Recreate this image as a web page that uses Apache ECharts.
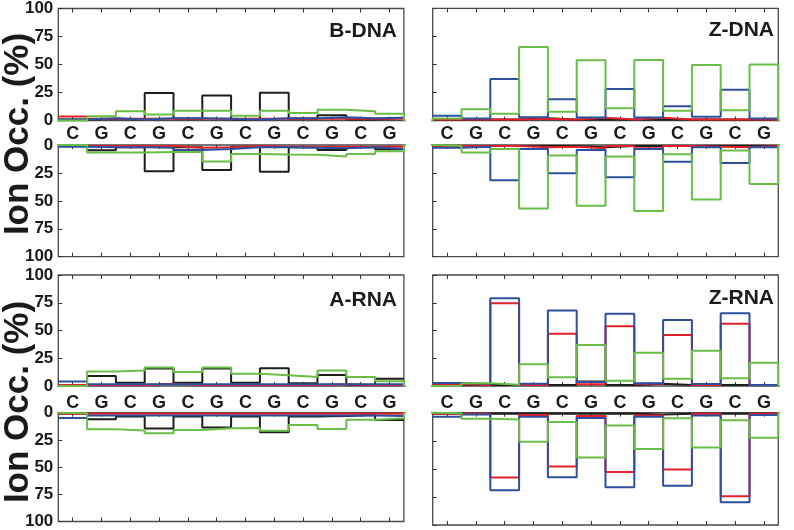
<!DOCTYPE html>
<html><head><meta charset="utf-8">
<script src="https://cdn.jsdelivr.net/npm/echarts@6/dist/echarts.min.js"></script>
<style>html,body{margin:0;padding:0;background:#fff}#c{width:794px;height:530px}</style>
</head><body><div id="c"></div>
<script>
// ---------- data ----------
const bases = ['C','G','C','G','C','G','C','G','C','G','C','G'];
const panelNames = ['B-DNA','Z-DNA','A-RNA','Z-RNA'];
const yAxisTitle = 'Ion Occ. (%)';

// B-DNA
const bdnaUpBlack = [1, 1.5, 1, 24.5, 1.5, 22.3, 1, 24.7, 1.5, 4.6, 1, 2.5];
const bdnaUpRed   = [3.5, 1.5, 1.5, 1.5, 1.5, 1.5, 1.5, 1.5, 1.5, 1.5, 1.5, 1.5];
const bdnaUpBlue  = [1, 2, 1, 2, 2, 1.5, 1, 2, 2, 3, 2, 2.5];
const bdnaUpGreen = [0, 3.9, 8.3, 5.4, 8.6, 8.6, 4.2, 8.6, 6.8, 9.5, 8.3, 6];
const bdnaLoBlack = [1, 4.7, 2, 23.5, 2, 22.4, 1.5, 24, 2, 4.4, 2, 3.8];
const bdnaLoRed   = [1, 1, 1, 1, 2.5, 2, 1, 1.5, 1.5, 1.5, 1.5, 1.5];
const bdnaLoBlue  = [1.5, 2, 2, 2.5, 4.5, 3.5, 2, 2, 2.5, 3, 2, 3.5];
const bdnaLoGreen = [0, 6.8, 6.8, 6.2, 6.2, 14.7, 8, 8.5, 8.8, 10.3, 8, 5.6];
// Z-DNA
const zdnaUpBlack = [1, 1, 1, 2, 1, 1, 1, 1, 1, 1, 1, 1];
const zdnaUpRed   = [1, 1, 1, 1.5, 1, 2.5, 1, 2.5, 1, 1, 1, 1];
const zdnaUpBlue  = [4.2, 1.8, 36.9, 3, 19, 2.7, 28, 2.7, 12.8, 3.3, 27.4, 1.8];
const zdnaUpGreen = [1.8, 10, 6, 65.5, 7.7, 53.6, 11, 54, 8.6, 49.4, 9.2, 50];
const zdnaLoBlack = [1, 1, 1, 1, 1, 2, 1, 1, 1, 1, 1, 1];
const zdnaLoRed   = [1, 1, 1, 2, 1.5, 3, 1, 3, 1, 1.5, 2, 1];
const zdnaLoBlue  = [2.4, 1.5, 31.5, 3.5, 25.3, 4.4, 28.8, 3.5, 15, 2, 16.2, 2];
const zdnaLoGreen = [0.6, 6.8, 3.5, 56.8, 9.4, 54.4, 10.3, 59, 8.2, 48.8, 5, 35];
// A-RNA
const arnaUpBlack = [0.5, 9, 3, 15.7, 3, 15.7, 3, 16, 2.4, 10, 1, 6.6];
const arnaUpRed   = [1, 1, 1, 2, 1, 1, 1, 1, 1, 1.5, 1, 1];
const arnaUpBlue  = [4, 1.5, 1.5, 1.5, 1.5, 1.5, 1.5, 1.5, 1.5, 1.5, 1.5, 1.5];
const arnaUpGreen = [0, 13, 13.9, 16.6, 12.7, 16.6, 11, 9.6, 8.1, 13.9, 8.1, 4.2];
const arnaLoBlack = [1, 6, 3.6, 14.6, 3.6, 13.7, 3.6, 18, 3.6, 3, 2, 6.8];
const arnaLoRed   = [1, 1, 1, 1, 1, 1, 1, 1, 1, 1, 1, 1];
const arnaLoBlue  = [4.8, 2.5, 2.5, 2.5, 2.5, 2.5, 2.5, 2.5, 2.5, 2.5, 2.5, 3];
const arnaLoGreen = [0.6, 15.2, 16.4, 18.8, 16, 14.3, 14, 16.7, 11.3, 14.9, 6.5, 5];
// Z-RNA
const zrnaUpBlack = [1, 1, 1, 1, 1, 4, 1, 2, 1, 1, 1, 1];
const zrnaUpRed   = [1.5, 1, 74.5, 1, 47, 1.5, 53.8, 2, 46, 1, 56, 1];
const zrnaUpBlue  = [2.7, 1.8, 79, 2, 68, 3.6, 65, 2.4, 59.5, 1.8, 65.5, 1];
const zrnaUpGreen = [0.3, 2.4, 1.2, 19.5, 7.8, 37, 4.8, 30, 6.6, 31.8, 6.9, 21];
const zrnaLoBlack = [1, 1, 1, 1, 1, 1, 1, 1.5, 1, 1, 1, 1];
const zrnaLoRed   = [1, 1, 57.7, 2, 48, 3, 52.7, 2.5, 50.6, 1, 74.4, 1];
const zrnaLoBlue  = [3.6, 1.5, 69, 3.6, 57.4, 4.8, 66.4, 3.6, 65, 2.4, 79.8, 2.1];
const zrnaLoGreen = [0.6, 5.4, 6, 25.9, 8.3, 40, 11.3, 32.4, 5, 31, 6.8, 22.3];

// ---------- layout / style ----------
const COLORS = {black:'#1d1d1b', red:'#e4202a', blue:'#2d4f9e', green:'#6abd45'};
const FONT = '"Liberation Sans", Arial, sans-serif';
const colX = [58.3, 432.7], colW = 345.6;
const upTop = [8.3, 275], upH = [112.2, 111];
const loTop = [145, 412.7], loH = [111.7, 112.3];
const extL = [0.53, 1.15], extR = [1.0, 0.56];

const halves = [
  {p:0, lower:false, s:{black:bdnaUpBlack, red:bdnaUpRed, blue:bdnaUpBlue, green:bdnaUpGreen}},
  {p:0, lower:true,  s:{black:bdnaLoBlack, red:bdnaLoRed, blue:bdnaLoBlue, green:bdnaLoGreen}},
  {p:1, lower:false, s:{black:zdnaUpBlack, red:zdnaUpRed, blue:zdnaUpBlue, green:zdnaUpGreen}},
  {p:1, lower:true,  s:{black:zdnaLoBlack, red:zdnaLoRed, blue:zdnaLoBlue, green:zdnaLoGreen}},
  {p:2, lower:false, s:{black:arnaUpBlack, red:arnaUpRed, blue:arnaUpBlue, green:arnaUpGreen}},
  {p:2, lower:true,  s:{black:arnaLoBlack, red:arnaLoRed, blue:arnaLoBlue, green:arnaLoGreen}},
  {p:3, lower:false, s:{black:zrnaUpBlack, red:zrnaUpRed, blue:zrnaUpBlue, green:zrnaUpGreen}},
  {p:3, lower:true,  s:{black:zrnaLoBlack, red:zrnaLoRed, blue:zrnaLoBlue, green:zrnaLoGreen}}
];

const grid = [], xAxis = [], yAxis = [], series = [];
const tick = {show:true, inside:true, alignWithLabel:true, interval:0, length:4, lineStyle:{color:'#333', width:1}};

halves.forEach((h, g) => {
  const col = h.p % 2, row = Math.floor(h.p / 2);
  grid.push({left: colX[col], width: colW,
    top: h.lower ? loTop[row] : upTop[row],
    height: h.lower ? loH[row] : upH[row],
    show: true, borderColor: '#4a4a4a', borderWidth: 1.3, backgroundColor: 'transparent'});
  xAxis.push({type:'value', gridIndex:g, min:0, max:12, show:false});
  xAxis.push({type:'category', gridIndex:g, position:'top', data:bases,
    axisLine:{show:false}, axisTick:tick, axisLabel:{show:false}, splitLine:{show:false}});
  xAxis.push({type:'category', gridIndex:g, position:'bottom', data:bases,
    axisLine:{show:false}, axisTick:tick, splitLine:{show:false},
    axisLabel:{show: !h.lower, interval:0, fontWeight:'bold', fontSize:18, color:'#1a1a1a',
      fontFamily:FONT, margin: row === 0 ? 5 : 8}});
  yAxis.push({type:'value', gridIndex:g, min:0, max:100, interval:25, inverse:h.lower,
    axisLine:{show:false}, splitLine:{show:false},
    axisTick:{show:true, inside:true, length:4, lineStyle:{color:'#333'}},
    axisLabel:{show: col === 0, fontWeight:'bold', fontSize:17, color:'#1a1a1a', fontFamily:FONT, margin:5}});
  ['black','red','blue','green'].forEach(c => {
    const vals = h.s[c];
    let data = vals.map((v, i) => [i, v]);
    if (c === 'green') {
      data = [[-extL[col], 0]].concat(data, [[12, 0], [12 + extR[col], 0]]);
    } else {
      data.push([12, vals[vals.length - 1]]);
    }
    series.push({type:'line', xAxisIndex:3*g, yAxisIndex:g, step:'end', data,
      symbol:'none', clip:false, silent:true, animation:false,
      lineStyle:{color:COLORS[c], width:2}});
  });
});

const graphic = [];
const titlePos = [[397, 31], [774, 30], [397, 300], [774, 298.5]];
panelNames.forEach((n, i) => graphic.push({type:'text', x:titlePos[i][0], y:titlePos[i][1],
  style:{text:n, font:'bold 21px ' + FONT, fill:'#1a1a1a', textAlign:'right', textVerticalAlign:'middle'}}));
[134, 402].forEach(cy => graphic.push({type:'text', x:18, y:cy, rotation:Math.PI/2,
  style:{text:yAxisTitle, font:'bold 35px ' + FONT, fill:'#1a1a1a', textAlign:'center', textVerticalAlign:'middle'}}));

const chart = echarts.init(document.getElementById('c'), null, {renderer:'canvas'});
chart.setOption({animation:false, grid, xAxis, yAxis, series, graphic});
</script></body></html>
